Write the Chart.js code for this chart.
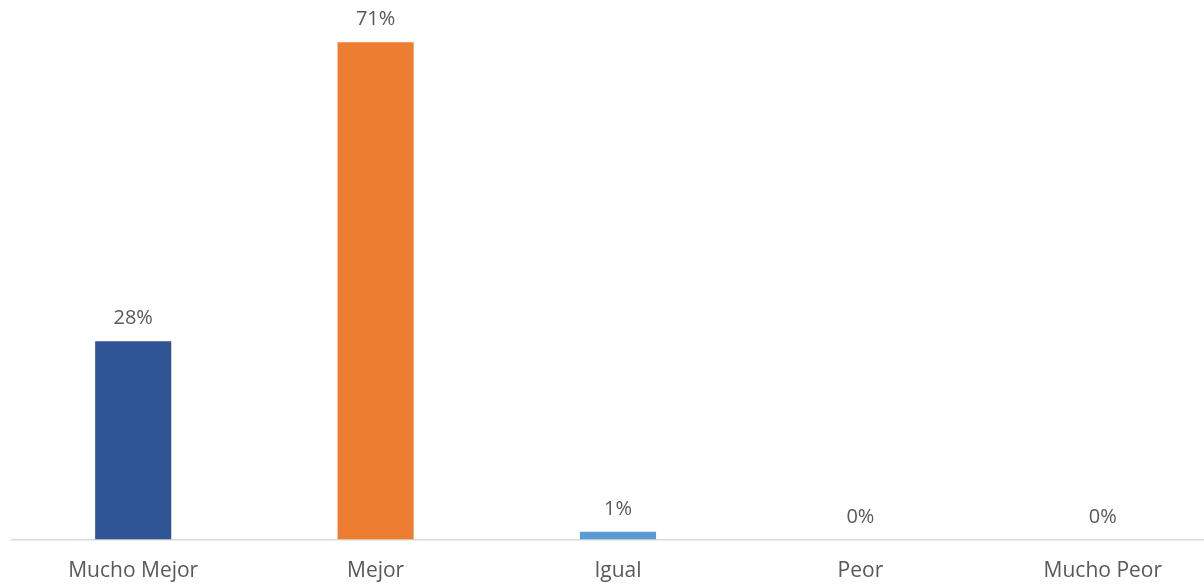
<!DOCTYPE html>
<html>
<head>
<meta charset="utf-8">
<script src="https://cdn.jsdelivr.net/npm/chart.js@4"></script>
<style>
  body { margin: 0; overflow: hidden; background: #fff; }
  #wrap { width: 1204px; height: 586px; overflow: hidden; }
</style>
</head>
<body>
<div id="wrap"><canvas id="chart" width="1224" height="586"></canvas></div>
<script>
const categories = ["Mucho Mejor", "Mejor", "Igual", "Peor", "Mucho Peor"];
const values = [28.2, 70.7, 1.1, 0, 0];
const labels = ["28%", "71%", "1%", "0%", "0%"];
const barColors = ["#2F5597", "#ED7D31", "#5B9BD5", "#A5A5A5", "#FFC000"];

const fontFamily = "'Open Sans', sans-serif";

// draws the percent text above each bar
const valueLabels = {
  id: "valueLabels",
  afterDatasetsDraw(chart) {
    const ctx = chart.ctx;
    const meta = chart.getDatasetMeta(0);
    ctx.save();
    ctx.font = "20px " + fontFamily;
    ctx.fillStyle = "#595959";
    ctx.textAlign = "center";
    ctx.textBaseline = "alphabetic";
    meta.data.forEach((bar, i) => {
      ctx.fillText(labels[i], bar.x, bar.y - 17);
    });
    ctx.restore();
  },
};

new Chart(document.getElementById("chart"), {
  type: "bar",
  data: {
    labels: categories,
    datasets: [
      {
        data: values,
        backgroundColor: barColors,
        barPercentage: 0.314,
        categoryPercentage: 1,
      },
    ],
  },
  options: {
    responsive: false,
    animation: false,
    layout: { padding: { left: 12, right: 0, top: 5, bottom: 0 } },
    plugins: { legend: { display: false }, tooltip: { enabled: false } },
    scales: {
      x: {
        grid: { display: false, drawTicks: false },
        border: { display: true, color: "#D9D9D9", width: 1.5 },
        ticks: {
          color: "#595959",
          padding: 19,
          font: { family: fontFamily, size: 21 },
        },
        afterFit(scale) {
          scale.height = 46.5;
        },
      },
      y: { display: false, min: 0, max: 76 },
    },
  },
  plugins: [valueLabels],
});
</script>
</body>
</html>
